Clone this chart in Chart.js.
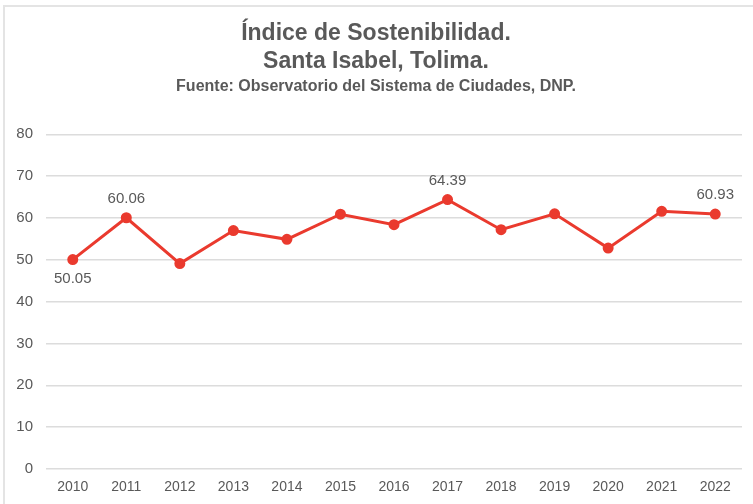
<!DOCTYPE html>
<html>
<head>
<meta charset="utf-8">
<script src="https://cdn.jsdelivr.net/npm/chart.js@4"></script>
<style>
  html, body { margin: 0; padding: 0; background: #fff; }
  #wrap { position: relative; width: 753px; height: 504px; }
  #frame {
    position: absolute; left: 3px; top: 5px; right: 0; bottom: 0;
    border-top: 2px solid #e4e4e4; border-left: 2px solid #e4e4e4;
    pointer-events: none;
  }
</style>
</head>
<body>
<div id="wrap">
  <canvas id="chart" width="753" height="504"></canvas>
  <div id="frame"></div>
</div>
<script>
// Datos del gráfico
const years = ["2010", "2011", "2012", "2013", "2014", "2015", "2016",
  "2017", "2018", "2019", "2020", "2021", "2022"];
const indexValues = [50.05, 60.06, 49.1, 57.0, 54.9, 60.9, 58.4,
  64.39, 57.2, 61.0, 52.8, 61.6, 60.93];
// Etiquetas visibles solo en algunos puntos ("" = sin etiqueta)
const pointLabels = ["50.05", "60.06", "", "", "", "", "",
  "64.39", "", "", "", "", "60.93"];
const labelBelow = [true, false, false, false, false, false, false,
  false, false, false, false, false, false];
const yTicks = [0, 10, 20, 30, 40, 50, 60, 70, 80];

const textColor = "#595959";
const lineColor = "#ea3a2e";
const fontFamily = "'Liberation Sans', Arial, sans-serif";

// Plugin sencillo para las etiquetas de datos
const valueLabels = {
  id: "valueLabels",
  afterDatasetsDraw: function (chart) {
    const ctx = chart.ctx;
    const meta = chart.getDatasetMeta(0);
    ctx.save();
    ctx.font = "15px " + fontFamily;
    ctx.fillStyle = textColor;
    ctx.textAlign = "center";
    ctx.textBaseline = "middle";
    meta.data.forEach(function (pt, i) {
      if (!pointLabels[i]) return;
      const dy = labelBelow[i] ? 19 : -19;
      ctx.fillText(pointLabels[i], pt.x, pt.y + dy);
    });
    ctx.restore();
  },
};

new Chart(document.getElementById("chart"), {
  type: "line",
  data: {
    labels: years,
    datasets: [
      {
        data: indexValues,
        borderColor: lineColor,
        backgroundColor: lineColor,
        borderWidth: 3,
        pointRadius: 4,
        pointBackgroundColor: lineColor,
        pointBorderColor: lineColor,
        tension: 0,
      },
    ],
  },
  options: {
    responsive: false,
    animation: false,
    layout: { padding: { left: 10, right: 11, top: 0, bottom: 8 } },
    scales: {
      x: {
        offset: true,
        grid: { display: false, drawTicks: false },
        border: { display: false },
        ticks: {
          color: textColor,
          padding: 10,
          maxRotation: 0,
          font: { family: fontFamily, size: 14 },
        },
        afterFit: function (scale) {
          scale.height = 27;
        },
      },
      y: {
        min: 0,
        max: 80,
        afterBuildTicks: function (scale) {
          scale.ticks = yTicks.map(function (v) { return { value: v }; });
        },
        grid: { color: "#dcdcdc", lineWidth: 1.5, drawTicks: false },
        border: { display: false },
        ticks: {
          color: textColor,
          padding: 13,
          font: { family: fontFamily, size: 15 },
        },
        afterFit: function (scale) {
          scale.width = 36;
        },
      },
    },
    plugins: {
      legend: { display: false },
      tooltip: { enabled: false },
      title: {
        display: true,
        text: ["Índice de Sostenibilidad.", "Santa Isabel, Tolima."],
        color: textColor,
        font: { family: fontFamily, size: 23, weight: "bold", lineHeight: 1.22 },
        padding: { top: 20, bottom: 0 },
      },
      subtitle: {
        display: true,
        text: "Fuente: Observatorio del Sistema de Ciudades, DNP.",
        color: textColor,
        font: { family: fontFamily, size: 16, weight: "bold" },
        padding: { top: 1, bottom: 38 },
      },
    },
  },
  plugins: [valueLabels],
});
</script>
</body>
</html>
